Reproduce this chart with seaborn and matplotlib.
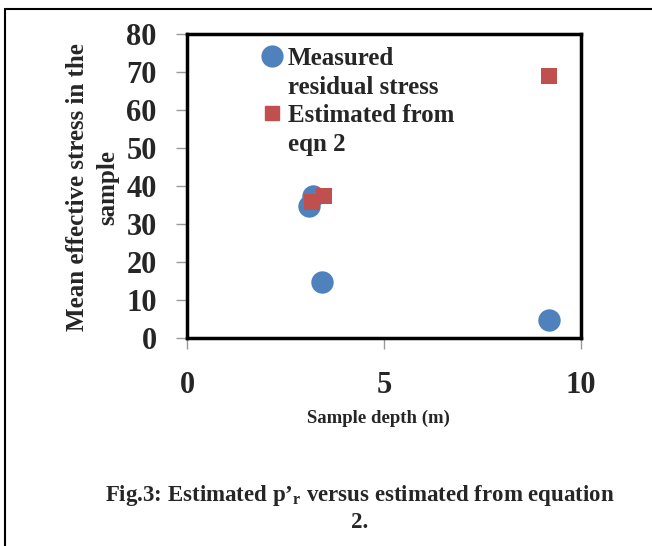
import pandas as pd
import matplotlib.pyplot as plt
import matplotlib.lines as mlines
import seaborn as sns

# Data
measured_depth = [3.2, 3.1, 3.43, 9.19]
measured_stress = [37.4, 34.8, 14.6, 4.6]
estimated_depth = [3.48, 3.17, 9.19]
estimated_stress = [37.4, 35.8, 69.0]

legend_lines = ["Measured", "residual stress", "Estimated from", "eqn 2"]
x_ticks = [0, 5, 10]
y_ticks = [0, 10, 20, 30, 40, 50, 60, 70, 80]

df_meas = pd.DataFrame({"depth": measured_depth, "stress": measured_stress})
df_est = pd.DataFrame({"depth": estimated_depth, "stress": estimated_stress})

sns.set_style("white")
plt.rcParams["font.family"] = ["Liberation Serif", "DejaVu Serif"]
plt.rcParams["font.weight"] = "bold"
plt.rcParams["mathtext.fontset"] = "custom"
plt.rcParams["mathtext.bf"] = "Liberation Serif:bold"
plt.rcParams["mathtext.rm"] = "Liberation Serif:bold"

blue = "#4F81BD"
red = "#C0504D"

fig = plt.figure(figsize=(6.52, 5.46), dpi=100)
ax = fig.add_axes([0.287, 0.381, 0.604, 0.557])

sns.scatterplot(data=df_meas, x="depth", y="stress", ax=ax, color=blue,
                marker="o", s=260, linewidth=0, zorder=3)
sns.scatterplot(data=df_est, x="depth", y="stress", ax=ax, color=red,
                marker="s", s=120, linewidth=0, zorder=4)

ax.set_xlim(0, 10)
ax.set_ylim(0, 80)
ax.set_xticks(x_ticks)
ax.set_yticks(y_ticks)
ax.tick_params(axis="x", length=8, width=1, color="#999999", pad=15.5, labelsize=22, bottom=True)
ax.tick_params(axis="y", length=8, width=1, color="#999999", pad=14, labelsize=22, left=True)
for t in ax.get_xticklabels() + ax.get_yticklabels():
    t.set_fontweight("bold")
for sp in ax.spines.values():
    sp.set_visible(True)
    sp.set_color("black")
    sp.set_linewidth(2.5)

ax.set_xlabel("Sample depth (m)", fontsize=13.5, fontweight="bold", va="center")
ax.xaxis.set_label_coords(0.487, -0.263)
ax.set_ylabel("")

fig.text(0.142, 0.657, "Mean effective stress in the\nsample", rotation=90,
         ha="center", va="center", fontsize=18, fontweight="bold",
         linespacing=1.4)

blank = mlines.Line2D([], [], linestyle="", marker="")
handles = [
    mlines.Line2D([], [], color=blue, marker="o", linestyle="", markersize=15),
    blank,
    mlines.Line2D([], [], color=red, marker="s", linestyle="", markersize=10),
    blank,
]
leg = ax.legend(handles, legend_lines, loc="upper left",
                bbox_to_anchor=(258 / 652, 1 - 47 / 546), bbox_transform=fig.transFigure,
                frameon=False, fontsize=18, handletextpad=0.1,
                handlelength=1.1, borderaxespad=0, borderpad=0, labelspacing=0.22)
for t in leg.get_texts():
    t.set_fontweight("bold")

fig.text(0.552, 0.069, "Fig.3: Estimated p’$_{\\mathbf{r}}$ versus estimated from equation\n2.",
         ha="center", va="center", fontsize=16.5, fontweight="bold", linespacing=1.25)

# outer frame (top and left edges)
fig.add_artist(mlines.Line2D([5 / 652, 1.0], [1 - 9 / 546, 1 - 9 / 546],
                             transform=fig.transFigure, color="black", lw=1.5))
fig.add_artist(mlines.Line2D([5 / 652, 5 / 652], [0.0, 1 - 9 / 546],
                             transform=fig.transFigure, color="black", lw=1.5))

fig.savefig("out.png", dpi=100)
